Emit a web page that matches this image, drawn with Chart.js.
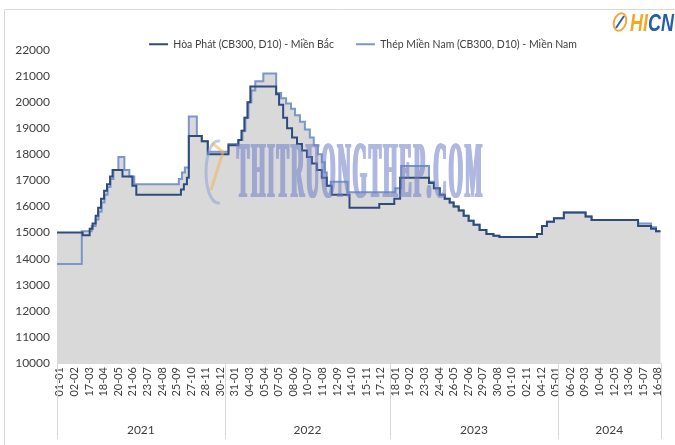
<!DOCTYPE html>
<html>
<head>
<meta charset="utf-8">
<script src="https://cdn.jsdelivr.net/npm/chart.js@4.4.0/dist/chart.umd.min.js"></script>
<style>
  html, body { margin: 0; padding: 0; background: #fff; }
  canvas { display: block; }
</style>
</head>
<body>
<canvas id="steelChart" width="675" height="445"></canvas>
<script>
// tick labels on the date axis (one every ~32 days)
const tickLabels = [
    "01-01", "02-02", "17-03", "18-04", "20-05", "21-06", "23-07", "24-08", "25-09", "27-10", "28-11", "30-12",
    "31-01", "04-03", "05-04", "07-05", "08-06", "10-07", "11-08", "12-09", "14-10", "15-11", "17-12",
    "18-01", "19-02", "23-03", "24-04", "26-05", "27-06", "29-07", "30-08", "01-10", "02-11", "04-12",
    "05-01", "06-02", "09-03", "10-04", "12-05", "13-06", "15-07", "16-08",
];
const years = ["2021", "2022", "2023", "2024"];
// year changes, in tick-label units
const yearBreaks = [11.3, 22.65, 34.15];

// price steps: position on the axis (tick-label units) -> price (đ/kg)
const hoaPhatPos = [
    -0.2, 1.56, 2.04, 2.24, 2.45, 2.62, 2.82, 3.03, 3.23, 3.44, 3.61, 4.29, 4.97, 5.24, 8.3, 8.5, 8.71,
    8.84, 9.73, 10.14, 11.56, 12.24, 12.45, 12.65, 12.86, 13.06, 14.83, 15.03, 15.31, 15.58, 15.92, 16.26,
    16.6, 16.94, 17.28, 17.62, 17.96, 18.3, 18.64, 19.86, 21.9, 22.93, 23.33, 25.31, 25.65, 26.05, 26.39,
    26.73, 27.0, 27.35, 27.69, 28.03, 28.37, 28.78, 29.25, 29.73, 30.14, 32.72, 33.06, 33.4, 33.88, 34.56,
    36.05, 36.46, 39.65, 40.54, 40.88, 41.2,
];
const hoaPhatPrice = [
    15000, 14900, 15150, 15350, 15650, 15950, 16300, 16600, 16850, 17150, 17400, 17150, 16800, 16450, 16650, 16850, 17100,
    18700, 18500, 18000, 18350, 18550, 18900, 19400, 20000, 20600, 20300, 19900, 19400, 19000, 18650, 18400,
    18150, 17900, 17650, 17400, 17100, 16800, 16450, 15950, 16100, 16300, 17100, 16900, 16700, 16450, 16300,
    16150, 16000, 15850, 15650, 15450, 15300, 15100, 14950, 14880, 14830, 14950, 15250, 15420, 15550, 15770,
    15620, 15480, 15250, 15150, 15050, 15050,
];
const mienNamPos = [
    -0.2, 1.5, 2.18, 2.45, 2.65, 2.86, 3.06, 3.27, 3.47, 3.67, 4.01, 4.42, 4.76, 5.1, 8.16, 8.37, 8.57,
    8.84, 9.39, 9.73, 10.14, 11.56, 12.24, 12.52, 12.72, 12.93, 13.13, 13.4, 13.95, 14.83, 15.17, 15.51,
    15.85, 16.12, 16.46, 16.8, 17.14, 17.41, 17.69, 17.96, 18.16, 18.3, 18.57, 19.73, 23.0, 23.4, 25.31,
    25.65, 26.05, 26.39, 26.73, 27.0, 27.35, 27.69, 28.03, 28.37, 28.78, 29.25, 29.73, 30.14, 32.72, 33.06,
    33.4, 33.88, 34.56, 36.05, 36.46, 39.65, 40.54, 40.88, 41.2,
];
const mienNamPrice = [
    13800, 15050, 15250, 15500, 15800, 16150, 16450, 16750, 17050, 17400, 17900, 17400, 17150, 16850, 17050, 17300, 17500,
    19450, 18700, 18500, 18100, 18400, 18550, 18900, 19400, 20000, 20450, 20800, 21100, 20350, 20150, 19950,
    19750, 19500, 19250, 18950, 18650, 18350, 18000, 17700, 17300, 16800, 16950, 16550, 16700, 17550, 16950,
    16700, 16450, 16300, 16150, 16000, 15850, 15650, 15450, 15300, 15100, 14950, 14880, 14830, 14950, 15250,
    15420, 15550, 15770, 15620, 15480, 15350, 15200, 15050, 15050,
];

const FONT = "Lato, 'Open Sans', sans-serif";
const toPoints = (pos, price) => pos.map((p, i) => ({ x: p, y: price[i] }));

// legend sits just above the plot, a bit right of centre
const legendFix = {
    id: "legendFix",
    beforeLayout(chart) {
        const lg = chart.legend;
        if (lg && !lg._fixed) {
            const fit = lg.fit.bind(lg);
            lg.fit = function () {
                fit();
                this.height = 33;
            };
            lg._fixed = true;
        }
    },
    afterLayout(chart) {
        chart.legend.left += 30;
        chart.legend.right += 30;
    },
};

// frame, year row under the dates, logo and watermark
const frameAndYears = {
    id: "frameAndYears",
    beforeDraw(chart) {
        const ctx = chart.ctx;
        ctx.save();
        ctx.strokeStyle = "#d9d9d9";
        ctx.lineWidth = 1;
        ctx.beginPath();
        ctx.moveTo(4.5, 460);
        ctx.lineTo(4.5, 9.5);
        ctx.lineTo(700, 9.5);
        ctx.stroke();
        ctx.restore();
    },
    afterDraw(chart) {
        const { ctx, chartArea, scales } = chart;
        const x = scales.x;
        const edges = [x.min, ...yearBreaks, x.max].map((v) => x.getPixelForValue(v));
        ctx.save();
        ctx.strokeStyle = "#d9d9d9";
        ctx.lineWidth = 1;
        edges.forEach((px) => {
            const xx = Math.round(px) + 0.5;
            ctx.beginPath();
            ctx.moveTo(xx, chartArea.bottom);
            ctx.lineTo(xx, chartArea.bottom + 76);
            ctx.stroke();
        });
        ctx.fillStyle = "#404040";
        ctx.font = "12px " + FONT;
        ctx.textAlign = "center";
        ctx.textBaseline = "middle";
        years.forEach((y, i) => {
            ctx.fillText(y, (edges[i] + edges[i + 1]) / 2, chartArea.bottom + 67);
        });

        // HICN logo, top right
        ctx.lineWidth = 2;
        ctx.strokeStyle = "#f2a93b";
        ctx.beginPath();
        ctx.ellipse(620, 22, 6, 9, 0.3, 0, Math.PI * 2);
        ctx.stroke();
        ctx.strokeStyle = "#2a62b0";
        ctx.beginPath();
        ctx.moveTo(616, 28);
        ctx.lineTo(624, 16);
        ctx.stroke();
        ctx.translate(630, 31);
        ctx.scale(0.78, 1);
        ctx.font = "italic bold 23px 'Liberation Sans', sans-serif";
        ctx.textAlign = "left";
        ctx.textBaseline = "alphabetic";
        ctx.fillStyle = "#f5a623";
        ctx.fillText("HI", 0, 0);
        const hw = ctx.measureText("HI").width;
        ctx.fillStyle = "#1f5fae";
        ctx.fillText("CN", hw, 0);
        ctx.restore();
    },
    afterDatasetsDraw(chart) {
        const ctx = chart.ctx;
        ctx.save();
        ctx.globalAlpha = 0.55;
        ctx.lineWidth = 3;
        ctx.strokeStyle = "#8fa3d3";
        ctx.beginPath();
        ctx.ellipse(218, 172, 12, 31, 0, Math.PI * 0.45, Math.PI * 1.55);
        ctx.stroke();
        ctx.strokeStyle = "#f2b35a";
        ctx.beginPath();
        ctx.moveTo(212, 143);
        ctx.lineTo(223, 152);
        ctx.lineTo(211, 190);
        ctx.stroke();
        ctx.restore();

        // heavy condensed watermark text, drawn off-screen then blended
        const wm = document.createElement("canvas");
        wm.width = chart.width;
        wm.height = chart.height;
        const w2 = wm.getContext("2d");
        const txt = "THITRUONGTHEP.COM";
        const gap = 2.2;
        w2.fillStyle = "#6f7fc8";
        w2.font = "bold 80px 'Liberation Serif', serif";
        const widths = [...txt].map((c) => w2.measureText(c).width);
        const total = widths.reduce((a, b) => a + b, 0);
        const sx = (245 - gap * (txt.length - 1)) / total;
        let cx = 236;
        [...txt].forEach((c, i) => {
            for (let dx = 0; dx <= 2; dx += 0.5) {
                w2.save();
                w2.translate(cx + dx, 197);
                w2.scale(sx, 1);
                w2.fillText(c, 0, 0);
                w2.restore();
            }
            cx += widths[i] * sx + gap;
        });
        ctx.save();
        ctx.globalAlpha = 0.55;
        ctx.drawImage(wm, 0, 0);
        ctx.restore();
    },
};

const ctx = document.getElementById("steelChart");

const steelChart = new Chart(ctx, {
    type: "line",
    data: {
        datasets: [
            {
                label: "Hòa Phát (CB300, D10) - Miền Bắc",
                data: toPoints(hoaPhatPos, hoaPhatPrice),
                stepped: true,
                borderColor: "#2f4b7e",
                borderWidth: 2,
                backgroundColor: "#d9d9d9",
                fill: "origin",
                pointRadius: 0,
            },
            {
                label: "Thép Miền Nam (CB300, D10) - Miền Nam",
                data: toPoints(mienNamPos, mienNamPrice),
                stepped: true,
                borderColor: "#7b95cd",
                borderWidth: 2,
                backgroundColor: "#d9d9d9",
                fill: "origin",
                pointRadius: 0,
            },
        ],
    },
    options: {
        responsive: false,
        animation: false,
        devicePixelRatio: 1,
        events: [],
        layout: { padding: { top: 17, right: 9, left: 0, bottom: 0 } },
        plugins: {
            filler: { drawTime: "beforeDatasetsDraw" },
            tooltip: { enabled: false },
            legend: {
                position: "top",
                align: "center",
                labels: {
                    boxWidth: 19,
                    boxHeight: 2,
                    padding: 22,
                    color: "#404040",
                    font: { family: FONT, size: 10.5 },
                    generateLabels(chart) {
                        const items = Chart.defaults.plugins.legend.labels.generateLabels(chart);
                        items.forEach((it) => {
                            it.fillStyle = it.strokeStyle;
                            it.lineWidth = 0;
                        });
                        return items;
                    },
                },
            },
        },
        scales: {
            x: {
                type: "linear",
                min: -0.2,
                max: 41.2,
                grid: { display: false, drawTicks: false },
                border: { color: "#d9d9d9" },
                afterBuildTicks: (scale) => {
                    scale.ticks = tickLabels.map((_, i) => ({ value: i }));
                },
                afterFit: (scale) => {
                    scale.height = 82;
                },
                ticks: {
                    autoSkip: false,
                    minRotation: 90,
                    maxRotation: 90,
                    padding: 4,
                    color: "#404040",
                    font: { family: FONT, size: 11 },
                    callback: (v) => tickLabels[v],
                },
            },
            y: {
                min: 10000,
                max: 22000,
                grid: { display: false, drawTicks: false },
                border: { display: false },
                afterFit: (scale) => {
                    scale.width = 57;
                },
                ticks: {
                    stepSize: 1000,
                    padding: 7,
                    color: "#404040",
                    font: { family: FONT, size: 12 },
                    callback: (v) => String(v),
                },
            },
        },
    },
    plugins: [legendFix, frameAndYears],
});
</script>
</body>
</html>
